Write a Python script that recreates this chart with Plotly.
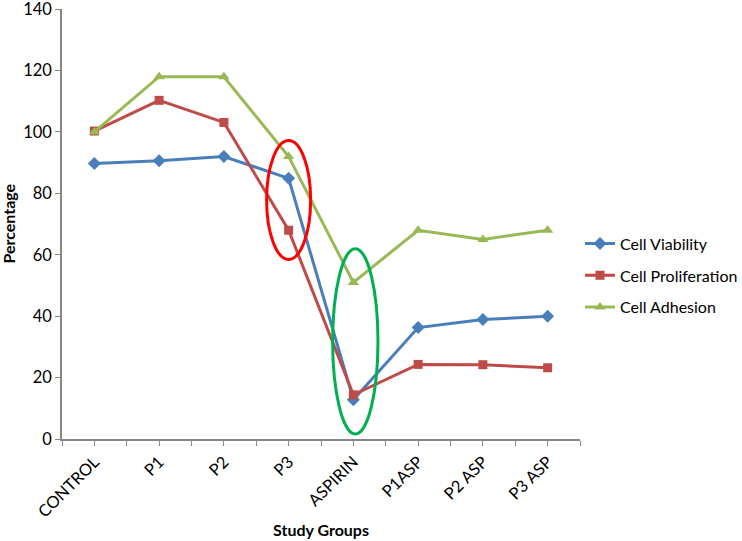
import plotly.graph_objects as go

categories = ["CONTROL", "P1", "P2", "P3", "ASPIRIN", "P1ASP", "P2 ASP", "P3 ASP"]
cell_viability = [89.7, 90.6, 92.0, 84.9, 12.8, 36.3, 38.9, 40.0]
cell_proliferation = [100.3, 110.3, 103.1, 68.0, 14.4, 24.3, 24.2, 23.2]
cell_adhesion = [100.0, 118.0, 118.0, 92.0, 51.0, 68.0, 65.0, 68.0]
y_ticks = [0, 20, 40, 60, 80, 100, 120, 140]

x_pos = list(range(len(categories)))
FONT = "Lato, 'Open Sans', sans-serif"

fig = go.Figure()
fig.add_trace(go.Scatter(
    x=x_pos, y=cell_viability, name="Cell Viability", mode="lines+markers",
    line=dict(color="#4A7EBB", width=3),
    marker=dict(symbol="diamond", size=10, color="#4A7EBB"),
    legendgroup="a"))
fig.add_trace(go.Scatter(
    x=x_pos, y=cell_proliferation, name="Cell Proliferation", mode="lines+markers",
    line=dict(color="#BE4B48", width=3),
    marker=dict(symbol="square", size=9, color="#BE4B48"),
    legendgroup="b"))
fig.add_trace(go.Scatter(
    x=x_pos, y=cell_adhesion, name="Cell Adhesion", mode="lines+markers",
    line=dict(color="#98B954", width=3),
    marker=dict(symbol="triangle-up", size=10, color="#98B954"),
    legendgroup="c"))

# highlight ellipses
i_p3 = categories.index("P3")
i_asp = categories.index("ASPIRIN")
fig.add_shape(type="circle", xref="x", yref="y",
              x0=i_p3 - 0.34, x1=i_p3 + 0.34, y0=58.5, y1=97.2,
              line=dict(color="#FF0000", width=3))
fig.add_shape(type="circle", xref="x", yref="y",
              x0=i_asp + 0.03 - 0.35, x1=i_asp + 0.03 + 0.35, y0=1.6, y1=62.0,
              line=dict(color="#00B050", width=3))

fig.update_layout(
    width=742, height=541,
    margin=dict(l=62, r=162, t=9, b=102, autoexpand=False),
    plot_bgcolor="white", paper_bgcolor="white",
    font=dict(family=FONT, size=16, color="black"),
    showlegend=True,
    legend=dict(x=1.0, xanchor="left", y=0.38, yanchor="middle",
                font=dict(size=16, family=FONT), tracegroupgap=8,
                bgcolor="rgba(0,0,0,0)"),
    xaxis=dict(
        range=[-0.5, len(categories) - 0.5], automargin=False,
        tickmode="array", tickvals=x_pos, ticktext=categories,
        tickangle=-45, tickfont=dict(size=16.5),
        showline=True, linecolor="#868686", linewidth=1.5,
        ticks="outside", ticklen=5, tickcolor="#868686",
        minor=dict(tick0=-0.5, dtick=1, ticks="outside", ticklen=5, tickcolor="#868686"),
        showgrid=False, zeroline=False, fixedrange=True,
    ),
    yaxis=dict(
        range=[0, 140.05], tickmode="array", tickvals=y_ticks, automargin=False,
        showline=True, linecolor="#868686", linewidth=1.5,
        ticks="outside", ticklen=5, tickcolor="#868686",
        showgrid=False, zeroline=False, tickfont=dict(size=16.5),
        ticklabeloverflow="allow",
    ),
    annotations=[
        dict(text="<b>Percentage</b>", xref="paper", yref="paper",
             x=-0.105, y=0.5, xanchor="center", yanchor="middle",
             textangle=-90, showarrow=False, font=dict(size=16)),
        dict(text="<b>Study Groups</b>", xref="paper", yref="paper",
             x=0.5, y=-0.21, xanchor="center", yanchor="middle",
             showarrow=False, font=dict(size=16)),
    ],
)

fig.write_html("out.html", config={"displayModeBar": False},
               post_script="document.body.style.margin='0';document.body.style.padding='0';")
